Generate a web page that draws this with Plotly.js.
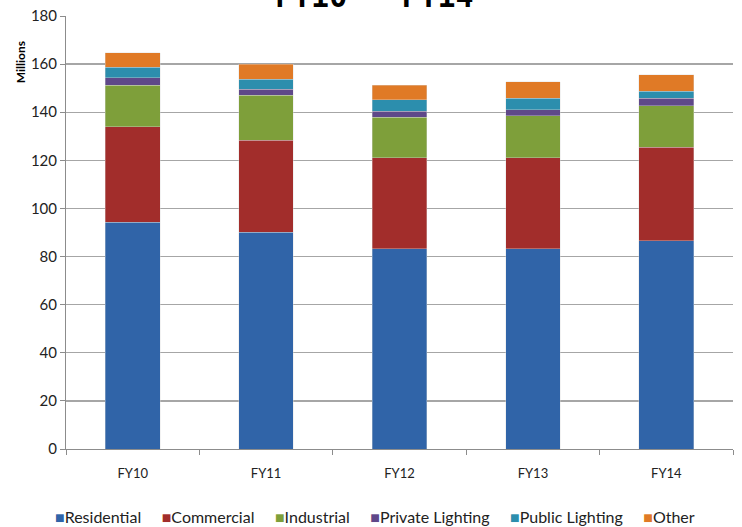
<!DOCTYPE html>
<html>
<head>
<meta charset="utf-8">
<script src="https://cdn.plot.ly/plotly-3.0.1.min.js"></script>
<style>html,body{margin:0;padding:0;background:#fff;}#chart{width:742px;height:527px;}</style>
</head>
<body>
<div id="chart"></div>
<script>
const categories = ["FY10", "FY11", "FY12", "FY13", "FY14"];
const residential = [94.2, 90.1, 83.3, 83.3, 86.5];
const commercial = [39.7, 38.2, 37.7, 37.7, 38.9];
const industrial = [17.4, 18.7, 16.9, 17.6, 17.3];
const privateLighting = [3.1, 2.5, 2.5, 2.4, 3.2];
const publicLighting = [4.3, 4.2, 4.8, 4.9, 2.9];
const other = [6.0, 6.2, 6.1, 6.7, 6.8];
const seriesNames = ["Residential", "Commercial", "Industrial", "Private Lighting", "Public Lighting", "Other"];
const seriesValues = [residential, commercial, industrial, privateLighting, publicLighting, other];
const colors = ["#3064A8", "#A22D2B", "#7E9F3A", "#5F4889", "#2C8EAD", "#E07A26"];
const yTicks = [0, 20, 40, 60, 80, 100, 120, 140, 160, 180];

const font = "Lato, 'Liberation Sans', sans-serif";

const traces = seriesNames.map((n, i) => ({
  type: "bar",
  name: n,
  x: categories,
  y: seriesValues[i],
  marker: {color: colors[i], line: {color: "rgba(220,220,220,0.6)", width: 0.6}},
  width: 0.41,
  hoverinfo: "x+y+name"
}));

// legend row (text), built from series names and colours
const legendText = seriesNames.map((n, i) =>
  '<span style="color:' + colors[i] + '">■</span>' + n
).join('&nbsp;&nbsp;&nbsp;&nbsp;&nbsp;');

const layout = {
  width: 742, height: 527,
  barmode: "stack",
  margin: {l: 66, r: 9, t: 15.5, b: 77.5, autoexpand: false},
  paper_bgcolor: "#fff",
  plot_bgcolor: "#fff",
  showlegend: false,
  xaxis: {
    type: "category",
    showline: true, linecolor: "#8c8c8c", linewidth: 1,
    ticks: "outside", tickson: "boundaries", ticklen: 5, tickcolor: "#8c8c8c",
    ticklabelstandoff: 12,
    tickfont: {family: font, size: 13, color: "#222"},
    showgrid: false, zeroline: false
  },
  yaxis: {
    range: [0, 180], tickvals: yTicks, ticktext: yTicks.map(String),
    showline: true, linecolor: "#8c8c8c", linewidth: 1,
    ticks: "outside", ticklen: 5, tickcolor: "#8c8c8c",
    showgrid: true, gridcolor: "#a6a6a6", gridwidth: 1.3,
    zeroline: false,
    tickfont: {family: font, size: 15, color: "#222"}
  },
  annotations: [
    {text: "<b>FY10 - FY14</b>", xref: "paper", yref: "paper", x: 0.463, y: 1, xanchor: "center", yanchor: "bottom", yshift: 0, showarrow: false,
     font: {family: "'DejaVu Sans Mono', monospace", size: 30, color: "#000"}},
    {text: "<b>Millions</b>", xref: "paper", yref: "paper", x: -0.069, y: 0.893, xanchor: "center", yanchor: "middle", textangle: -90, showarrow: false,
     font: {family: font, size: 12, color: "#000"}},
    {text: legendText, xref: "paper", yref: "paper", x: 0.463, y: -0.157, xanchor: "center", yanchor: "middle", showarrow: false,
     font: {family: font, size: 16, color: "#222"}}
  ]
};

Plotly.newPlot("chart", traces, layout, {displayModeBar: false, staticPlot: true});
</script>
</body>
</html>
